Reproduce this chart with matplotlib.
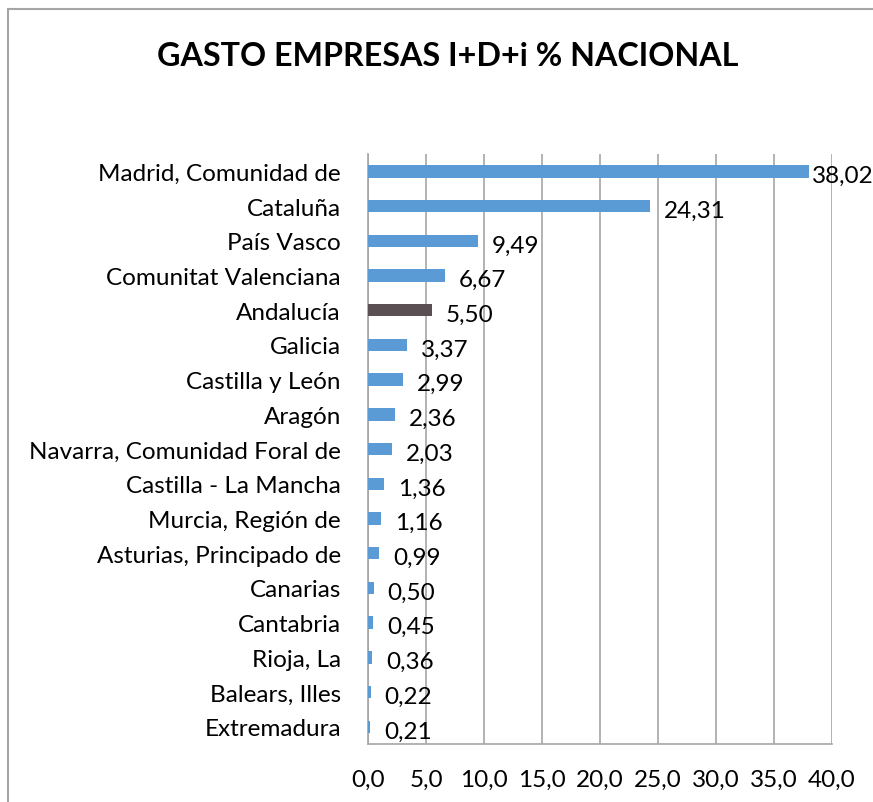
import matplotlib.pyplot as plt
import numpy as np

# Regions (top to bottom as shown) and share of national business R&D+i spending
regions = ['Madrid, Comunidad de', 'Cataluña', 'País Vasco', 'Comunitat Valenciana',
           'Andalucía', 'Galicia', 'Castilla y León', 'Aragón',
           'Navarra, Comunidad Foral de', 'Castilla - La Mancha', 'Murcia, Región de',
           'Asturias, Principado de', 'Canarias', 'Cantabria', 'Rioja, La',
           'Balears, Illes', 'Extremadura']
values = [38.02, 24.31, 9.49, 6.67, 5.50, 3.37, 2.99, 2.36, 2.03, 1.36, 1.16,
          0.99, 0.50, 0.45, 0.36, 0.22, 0.21]
x_ticks = [0, 5, 10, 15, 20, 25, 30, 35, 40]
highlight = 'Andalucía'

plt.rcParams['font.family'] = ['Lato', 'DejaVu Sans']

fig = plt.figure(figsize=(8.73, 8.03), dpi=100)
ax = fig.add_axes([0.4215, 0.072, 0.5315, 0.735])

y = np.arange(len(regions))
colors = ['#5A5054' if r == highlight else '#5B9BD5' for r in regions]
bars = ax.barh(y, values, height=0.36, color=colors, zorder=3)

for i, (rect, v) in enumerate(zip(bars, values)):
    # the longest bar's label is squeezed against the chart edge
    dx = 2 if i == 0 else 10
    ax.annotate(f'{v:.2f}'.replace('.', ','),
                xy=(rect.get_width(), rect.get_y() + rect.get_height() / 2),
                xytext=(dx, -3), textcoords='offset points',
                ha='left', va='center', fontsize=17.5, color='black',
                annotation_clip=False, zorder=4)

ax.set_ylim(len(regions) - 0.5, -0.5)
ax.set_yticks(y)
ax.set_yticklabels(regions, fontsize=17.5)
ax.set_xlim(0, 40)
ax.set_xticks(x_ticks)
ax.set_xticklabels([f'{t:.1f}'.replace('.', ',') for t in x_ticks], fontsize=17.5)
ax.tick_params(axis='y', length=0, pad=19.5)
ax.tick_params(axis='x', length=0, pad=18)

ax.grid(axis='x', color='#A6A6A6', linewidth=1.2, zorder=0)
for side in ['top', 'right']:
    ax.spines[side].set_visible(False)
ax.spines['left'].set_color('#A6A6A6')
ax.spines['bottom'].set_color('#A6A6A6')
ax.spines['left'].set_linewidth(1.2)
ax.spines['bottom'].set_linewidth(1.2)

fig.text(0.513, 0.93, 'GASTO EMPRESAS I+D+i % NACIONAL', ha='center', va='center',
         fontsize=23.2, fontweight='bold')

# chart frame (left and top edges visible in the original)
fig.add_artist(plt.Line2D([0.0092, 0.0092], [0.0, 0.987], transform=fig.transFigure,
                          color='#A6A6A6', linewidth=1.5))
fig.add_artist(plt.Line2D([0.0092, 1.0], [0.987, 0.987], transform=fig.transFigure,
                          color='#A6A6A6', linewidth=1.5))

fig.savefig('out.png', dpi=100)
